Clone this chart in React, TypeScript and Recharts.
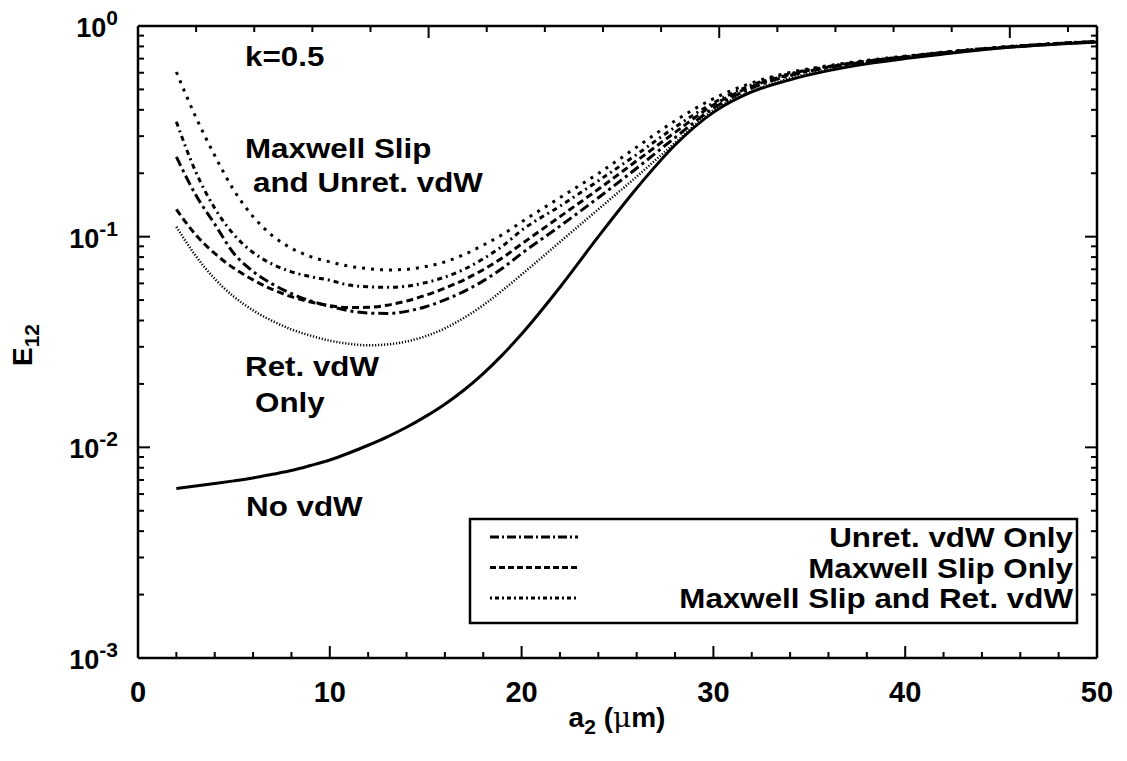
import React from 'react';
import { LineChart, Line, XAxis, YAxis, Label } from 'recharts';

const FONT = "'Liberation Sans', Arial, Helvetica, sans-serif";

// particle radius a2 (um)
const a2 = [2, 3, 4, 5, 6, 7, 8, 9, 10, 11, 12, 13, 14, 15, 16, 17, 18, 19, 20, 22, 24, 26, 28, 30, 32, 34, 36, 38, 40, 42, 44, 46, 48, 50];

// collision efficiency E12 for each model
const noVdw = [0.00638, 0.00655, 0.00673, 0.00693, 0.00716, 0.00745, 0.00776, 0.0082, 0.00871, 0.0094, 0.01023, 0.01122, 0.01245, 0.01403, 0.01603, 0.01871, 0.02239, 0.02748, 0.03451, 0.05754, 0.1, 0.1698, 0.2723, 0.389, 0.4864, 0.5559, 0.614, 0.661, 0.700, 0.736, 0.771, 0.800, 0.822, 0.839];
const slipUnret = [0.605, 0.372, 0.2427, 0.166, 0.1245, 0.1012, 0.0881, 0.0804, 0.0759, 0.0724, 0.0705, 0.0695, 0.070, 0.0721, 0.0759, 0.0822, 0.0912, 0.1023, 0.1175, 0.1531, 0.1995, 0.2661, 0.3548, 0.4519, 0.537, 0.6026, 0.6486, 0.6871, 0.7194, 0.7516, 0.7816, 0.8072, 0.8279, 0.8453];
const slipRet = [0.3508, 0.2042, 0.1365, 0.1023, 0.0841, 0.0741, 0.0681, 0.0646, 0.0621, 0.0589, 0.0578, 0.0575, 0.0582, 0.0605, 0.0643, 0.070, 0.0785, 0.0902, 0.1072, 0.1396, 0.1841, 0.2455, 0.3311, 0.4315, 0.5248, 0.5943, 0.6427, 0.6823, 0.7161, 0.7482, 0.778, 0.8035, 0.826, 0.8433];
const unret = [0.2393, 0.1585, 0.1148, 0.0832, 0.0684, 0.0596, 0.0537, 0.0495, 0.0468, 0.0445, 0.0434, 0.0432, 0.0442, 0.0465, 0.0501, 0.055, 0.0617, 0.0708, 0.0832, 0.1122, 0.1531, 0.2113, 0.2951, 0.4074, 0.507, 0.5821, 0.6353, 0.6776, 0.7129, 0.7464, 0.7762, 0.8017, 0.8241, 0.8414];
const slipOnly = [0.1349, 0.1023, 0.0832, 0.0708, 0.0624, 0.0562, 0.0519, 0.049, 0.047, 0.0461, 0.0462, 0.0473, 0.0495, 0.0527, 0.0569, 0.0624, 0.0697, 0.0794, 0.0923, 0.1245, 0.1679, 0.2291, 0.3126, 0.4217, 0.5164, 0.5888, 0.6397, 0.6808, 0.7145, 0.7482, 0.778, 0.8035, 0.826, 0.8433];
const retOnly = [0.1114, 0.0813, 0.0631, 0.0519, 0.0447, 0.0398, 0.0363, 0.0339, 0.0321, 0.031, 0.0305, 0.0308, 0.0318, 0.0337, 0.0367, 0.0412, 0.0473, 0.0556, 0.0661, 0.0944, 0.1349, 0.1928, 0.2786, 0.3981, 0.4898, 0.5649, 0.6209, 0.6668, 0.7047, 0.7396, 0.7709, 0.798, 0.8204, 0.8375];

const xTicks = [0, 2, 4, 6, 8, 10, 12, 14, 16, 18, 20, 22, 24, 26, 28, 30, 32, 34, 36, 38, 40, 42, 44, 46, 48, 50];
const xMajor = [0, 10, 20, 30, 40, 50];
const decades = [0.001, 0.01, 0.1];
const yTicks = [...decades.flatMap(d => [1, 2, 3, 4, 5, 6, 7, 8, 9].map(m => m * d)), 1];

const data = a2.map((a, i) => ({
  a,
  noVdw: noVdw[i],
  slipUnret: slipUnret[i],
  slipRet: slipRet[i],
  unret: unret[i],
  slipOnly: slipOnly[i],
  retOnly: retOnly[i],
}));

const series = [
  { key: 'slipUnret', dash: '3 6', width: 3 },
  { key: 'slipRet', dash: '5 4 2 4', width: 3 },
  { key: 'unret', dash: '10 4 3 4', width: 3 },
  { key: 'slipOnly', dash: '7 4', width: 3 },
  { key: 'retOnly', dash: '1.2 1.8', width: 2.5 },
  { key: 'noVdw', dash: undefined, width: 3 },
];

const legendRows = [
  { name: 'Unret. vdW Only', dash: '9 3 2 3' },
  { name: 'Maxwell Slip Only', dash: '6 3' },
  { name: 'Maxwell Slip and Ret. vdW', dash: '2 3 4 3' },
];

const isDecade = (v: number) => Math.abs(Math.log10(v) - Math.round(Math.log10(v))) < 1e-6;

const LeftTick = (props: any) => {
  const { x, y, payload } = props;
  const major = isDecade(payload.value);
  const exp = Math.round(Math.log10(payload.value));
  return (
    <g>
      <line x1={x} x2={x + (major ? 12 : 6)} y1={y} y2={y} stroke="#000" strokeWidth={2} />
      {major && (
        <text x={x - 20} y={y + 11} textAnchor="end" fill="#000" fontSize={27} fontWeight="bold" fontFamily={FONT}>
          10<tspan dy={-12} fontSize={21}>{String(exp)}</tspan>
        </text>
      )}
    </g>
  );
};

const RightTick = (props: any) => {
  const { x, y, payload } = props;
  const major = isDecade(payload.value);
  return <line x1={x} x2={x - (major ? 12 : 6)} y1={y} y2={y} stroke="#000" strokeWidth={2} />;
};

const BottomTick = (props: any) => {
  const { x, y, payload } = props;
  const major = xMajor.includes(payload.value);
  return (
    <g>
      <line x1={x} x2={x} y1={y} y2={y - (major ? 12 : 6)} stroke="#000" strokeWidth={2} />
      {major && (
        <text x={x} y={y + 44} textAnchor="middle" fill="#000" fontSize={29} fontWeight="bold" fontFamily={FONT}>
          {payload.value}
        </text>
      )}
    </g>
  );
};

const TopTick = (props: any) => {
  const { x, y, payload } = props;
  const major = xMajor.includes(payload.value);
  return <line x1={x} x2={x} y1={y} y2={y + (major ? 12 : 6)} stroke="#000" strokeWidth={2} />;
};

const YTitle = () => (
  <text transform="translate(32,345) rotate(-90)" textAnchor="middle" fill="#000" fontSize={28} fontWeight="bold" fontFamily={FONT}>
    E<tspan dy={7} fontSize={21}>12</tspan>
  </text>
);

const XTitle = () => (
  <text x={617} y={727} textAnchor="middle" fill="#000" fontSize={28} fontWeight="bold" fontFamily={FONT}>
    a<tspan dy={7} fontSize={21}>2</tspan>
    <tspan dy={-7}> (</tspan>
    <tspan fontWeight="normal" fontFamily="'DejaVu Serif', serif">μ</tspan>
    <tspan>m)</tspan>
  </text>
);

const textStyle = { fill: '#000', fontSize: 28, fontWeight: 'bold' as const, fontFamily: FONT };

// bold text, slightly widened like the original postscript font
const Note = ({ x, y, anchor = 'start', children }: { x: number; y: number; anchor?: 'start' | 'end'; children: React.ReactNode }) => (
  <g transform={`translate(${x},${y}) scale(1.12,1)`}>
    <text x={0} y={0} textAnchor={anchor} {...textStyle}>{children}</text>
  </g>
);

export default function App() {
  return (
    <div style={{ position: 'relative', width: 1119, height: 750, margin: '-8px 0 0 -8px' }}>
      <LineChart width={1119} height={750} data={data} margin={{ top: 26, right: 22, bottom: 0, left: 0 }}>
        <XAxis xAxisId="b" dataKey="a" type="number" domain={[0, 50]} ticks={xTicks} interval={0} height={92}
          tickSize={0} tickMargin={0} tickLine={false} tick={<BottomTick />} axisLine={{ stroke: '#000', strokeWidth: 2.5 }}>
          <Label content={<XTitle />} />
        </XAxis>
        <XAxis xAxisId="t" orientation="top" mirror type="number" domain={[0, 50]} ticks={xTicks} interval={0}
          tickSize={0} tickMargin={0} tickLine={false} tick={<TopTick />} axisLine={{ stroke: '#000', strokeWidth: 2.5 }} />
        <YAxis yAxisId="l" type="number" scale="log" domain={[0.001, 1]} allowDataOverflow ticks={yTicks} interval={0} width={138}
          tickSize={0} tickMargin={0} tickLine={false} tick={<LeftTick />} axisLine={{ stroke: '#000', strokeWidth: 2.5 }}>
          <Label content={<YTitle />} />
        </YAxis>
        <YAxis yAxisId="r" orientation="right" mirror type="number" scale="log" domain={[0.001, 1]} allowDataOverflow ticks={yTicks} interval={0}
          tickSize={0} tickMargin={0} tickLine={false} tick={<RightTick />} axisLine={{ stroke: '#000', strokeWidth: 2.5 }} />
        {series.map(s => (
          <Line key={s.key} xAxisId="b" yAxisId="l" dataKey={s.key} type="monotone" stroke="#000"
            strokeWidth={s.width} strokeDasharray={s.dash} dot={false} activeDot={false} isAnimationActive={false} />
        ))}
      </LineChart>

      {/* curve annotations and key */}
      <svg width={1119} height={750} style={{ position: 'absolute', left: 0, top: 0, pointerEvents: 'none' }}>
        <Note x={245} y={66}>k=0.5</Note>
        <Note x={245} y={158}>Maxwell Slip</Note>
        <Note x={253} y={192}>and Unret. vdW</Note>
        <Note x={245} y={376}>Ret. vdW</Note>
        <Note x={255} y={412}>Only</Note>
        <Note x={246} y={516}>No vdW</Note>

        <rect x={470} y={519} width={607} height={104} fill="#fff" stroke="#000" strokeWidth={2.5} />
        {legendRows.map((r, i) => (
          <g key={r.name}>
            <line x1={490} x2={578} y1={537 + i * 30.5} y2={537 + i * 30.5} stroke="#000" strokeWidth={3} strokeDasharray={r.dash} />
            <Note x={1073} y={547 + i * 30.5} anchor="end">{r.name}</Note>
          </g>
        ))}
      </svg>
    </div>
  );
}
